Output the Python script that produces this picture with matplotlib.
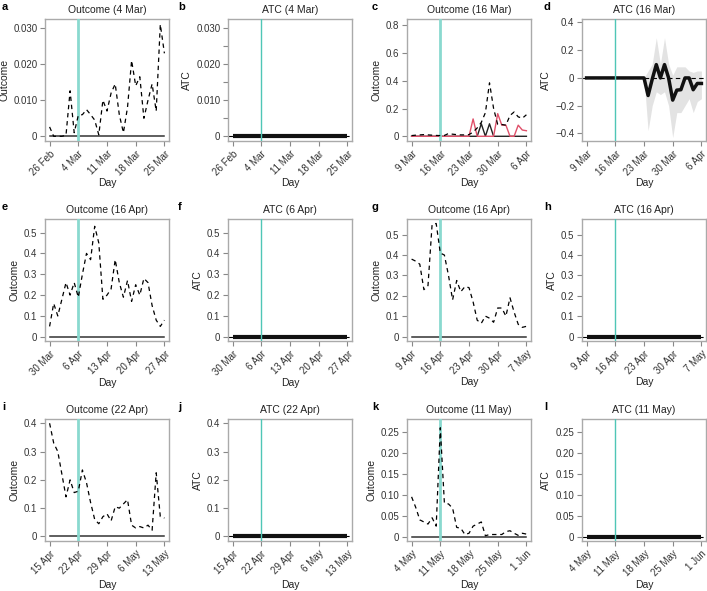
import matplotlib
matplotlib.use('Agg')
import matplotlib.pyplot as plt
import numpy as np

plt.rcParams['font.family'] = ['Liberation Sans', 'DejaVu Sans']

days = np.arange(29)

# tick labels (one every 7 days) for each row pair
ticks_a = ['26 Feb', '4 Mar', '11 Mar', '18 Mar', '25 Mar']
ticks_c = ['9 Mar', '16 Mar', '23 Mar', '30 Mar', '6 Apr']
ticks_e = ['30 Mar', '6 Apr', '13 Apr', '20 Apr', '27 Apr']
ticks_g = ['9 Apr', '16 Apr', '23 Apr', '30 Apr', '7 May']
ticks_i = ['15 Apr', '22 Apr', '29 Apr', '6 May', '13 May']
ticks_k = ['4 May', '11 May', '18 May', '25 May', '1 Jun']

# outcome series (dashed)
a_outcome = [0.0026, 0.0, 0.0, 0.0, 0.0003, 0.0126, 0.001, 0.0058, 0.006, 0.0074, 0.006, 0.0045, 0.0004,
             0.010, 0.007, 0.012, 0.0145, 0.006, 0.001, 0.008, 0.021, 0.014, 0.0165, 0.005, 0.010,
             0.0145, 0.007, 0.031, 0.023]
c_outcome = [0.005, 0.008, 0.01, 0.012, 0.01, 0.008, 0.006, 0.005, 0.006, 0.02, 0.015, 0.012, 0.01,
             0.01, 0.012, 0.03, 0.06, 0.10, 0.17, 0.385, 0.2, 0.085, 0.085, 0.08, 0.15, 0.175, 0.14,
             0.13, 0.155]
c_red = [0, 0, 0, 0, 0, 0, 0, 0, 0, 0, 0, 0, 0, 0, 0, 0.125, 0, 0, 0, 0, 0, 0.163, 0.08, 0.08, 0, 0,
         0.08, 0.045, 0.04]
c_black = [0, 0, 0, 0, 0, 0, 0, 0, 0, 0, 0, 0, 0, 0, 0, 0, 0, 0.09, 0, 0.09, 0, 0, 0, 0, 0, 0, 0, 0, 0]
e_outcome = [0.05, 0.16, 0.10, 0.18, 0.26, 0.20, 0.26, 0.19, 0.30, 0.40, 0.37, 0.53, 0.45, 0.18, 0.20,
             0.23, 0.37, 0.26, 0.19, 0.27, 0.17, 0.25, 0.20, 0.28, 0.26, 0.15, 0.08, 0.05, 0.08]
g_outcome = [0.38, 0.37, 0.355, 0.23, 0.25, 0.55, 0.555, 0.41, 0.40, 0.30, 0.18, 0.275, 0.22, 0.245,
             0.24, 0.17, 0.08, 0.065, 0.10, 0.09, 0.07, 0.14, 0.14, 0.10, 0.19, 0.12, 0.06, 0.045, 0.05]
i_outcome = [0.40, 0.33, 0.30, 0.22, 0.14, 0.20, 0.155, 0.16, 0.235, 0.19, 0.12, 0.06, 0.045, 0.07,
             0.08, 0.055, 0.105, 0.10, 0.115, 0.13, 0.04, 0.03, 0.035, 0.03, 0.04, 0.022, 0.225, 0.07,
             0.065]
k_outcome = [0.095, 0.07, 0.04, 0.035, 0.03, 0.045, 0.025, 0.26, 0.08, 0.078, 0.068, 0.022, 0.02, 0.005,
             0.008, 0.025, 0.03, 0.035, 0.002, 0.005, 0.005, 0.005, 0.005, 0.012, 0.014, 0.008, 0.003,
             0.008, 0.006]

# ATC for 16 Mar with its band
d_atc = [0] * 15 + [-0.127, -0.01, 0.096, 0.0, 0.096, 0.0, -0.16, -0.088, -0.085, 0.0, 0.0, -0.085,
                    -0.04, -0.04]
d_lo = [0] * 15 + [-0.38, -0.2, -0.1, -0.12, -0.1, -0.2, -0.43, -0.25, -0.25, -0.2, -0.15, -0.25,
                   -0.17, -0.15]
d_hi = [0] * 15 + [0.05, 0.1, 0.29, 0.1, 0.29, 0.1, 0.02, 0.08, 0.08, 0.08, 0.05, 0.04, 0.05, 0.05]
zero_atc = [0] * 29

fig = plt.figure(figsize=(7.07, 5.91), dpi=100)
W, H = 707.0, 591.0

lefts = [45, 228, 407, 582]
tops = [19, 219, 419]
aw, ah = 124, 122

teal_thick = '#8ad9cf'
teal_thin = '#4fc6b6'


def make_axes(row, col, title, letter, ticks, ylim, yticks, ylabels, ylabel):
    ax = fig.add_axes([lefts[col] / W, 1 - (tops[row] + ah) / H, aw / W, ah / H])
    ax.set_xlim(-1.12, 29.12)
    ax.set_ylim(ylim)
    ax.set_xticks(range(0, 29, 7))
    ax.set_xticklabels(ticks, rotation=45, ha='right', rotation_mode='anchor', fontsize=7,
                       color='#333333')
    ax.set_yticks(yticks)
    ax.set_yticklabels(ylabels, fontsize=7, color='#333333')
    ax.tick_params(length=3.5, width=0.8, color='#888888', pad=2)
    for s in ax.spines.values():
        s.set_color('#aaaaaa')
        s.set_linewidth(1.0)
    ax.set_title(title, fontsize=7.5, pad=4, color='#222222')
    ax.set_xlabel('Day', fontsize=7.5, color='#222222', labelpad=1)
    ax.set_ylabel(ylabel, fontsize=7.5, color='#222222', labelpad=3)
    lx = {0: 2, 1: 178, 2: 372, 3: 544}[col]
    ly = tops[row] - 12
    fig.text(lx / W, 1 - ly / H, letter, fontsize=8, fontweight='bold', va='center', ha='left')
    return ax


def outcome_panel(row, col, title, letter, ticks, ylim, yticks, ylabels, values):
    ax = make_axes(row, col, title, letter, ticks, ylim, yticks, ylabels, 'Outcome')
    ax.plot(days, zero_atc, color='#333333', lw=1.1, zorder=2)
    ax.axvline(7, color=teal_thick, lw=2, zorder=3)
    ax.plot(days, values, color='black', lw=0.9, ls=(0, (3.5, 3)), zorder=4)
    return ax


def atc_panel(row, col, title, letter, ticks, ylim, yticks, ylabels):
    ax = make_axes(row, col, title, letter, ticks, ylim, yticks, ylabels, 'ATC')
    ax.axhline(0, color='black', lw=0.8, ls=(0, (4, 3)), zorder=1)
    ax.plot(days, zero_atc, color='#111111', lw=3, zorder=2, solid_capstyle='butt')
    ax.axvline(7, color=teal_thin, lw=1, zorder=4)
    return ax


# row 1
yt_a = [0, 0.01, 0.02, 0.03]
yl_a = ['0', '0.010', '0.020', '0.030']
outcome_panel(0, 0, 'Outcome (4 Mar)', 'a', ticks_a, (-0.0013, 0.0325), yt_a, yl_a, a_outcome)
ax_b = atc_panel(0, 1, 'ATC (4 Mar)', 'b', ticks_a, (-0.0013, 0.0325), yt_a, yl_a)
ax_b.set_yticks([0.005, 0.015, 0.025], minor=True)
ax_b.tick_params(which='minor', length=3.5, width=0.8, color='#888888')

ax_c = make_axes(0, 2, 'Outcome (16 Mar)', 'c', ticks_c, (-0.034, 0.845), [0, 0.2, 0.4, 0.6, 0.8],
                 ['0', '0.2', '0.4', '0.6', '0.8'], 'Outcome')
ax_c.plot(days, c_black, color='#222222', lw=1.0, zorder=2)
ax_c.plot(days, c_red, color='#e0506a', lw=1.0, zorder=3)
ax_c.axvline(7, color=teal_thick, lw=2, zorder=3)
ax_c.plot(days, c_outcome, color='black', lw=0.9, ls=(0, (3.5, 3)), zorder=4)

ax_d = make_axes(0, 3, 'ATC (16 Mar)', 'd', ticks_c, (-0.455, 0.425), [-0.4, -0.2, 0, 0.2, 0.4],
                 ['\u22120.4', '\u22120.2', '0', '0.2', '0.4'], 'ATC')
ax_d.fill_between(days, d_lo, d_hi, color='#e3e3e3', lw=0, zorder=1)
ax_d.axhline(0, color='black', lw=0.8, ls=(0, (4, 3)), zorder=2)
ax_d.plot(days, d_atc, color='#111111', lw=2.5, zorder=3)
ax_d.axvline(7, color=teal_thin, lw=1, zorder=4)

# row 2
yt_e = [0, 0.1, 0.2, 0.3, 0.4, 0.5]
yl_e = ['0', '0.1', '0.2', '0.3', '0.4', '0.5']
outcome_panel(1, 0, 'Outcome (16 Apr)', 'e', ticks_e, (-0.02, 0.565), yt_e, yl_e, e_outcome)
atc_panel(1, 1, 'ATC (6 Apr)', 'f', ticks_e, (-0.02, 0.565), yt_e, yl_e)
outcome_panel(1, 2, 'Outcome (16 Apr)', 'g', ticks_g, (-0.022, 0.577), yt_e, yl_e, g_outcome)
atc_panel(1, 3, 'ATC (16 Apr)', 'h', ticks_g, (-0.022, 0.577), yt_e, yl_e)

# row 3
yt_i = [0, 0.1, 0.2, 0.3, 0.4]
yl_i = ['0', '0.1', '0.2', '0.3', '0.4']
outcome_panel(2, 0, 'Outcome (22 Apr)', 'i', ticks_i, (-0.016, 0.415), yt_i, yl_i, i_outcome)
atc_panel(2, 1, 'ATC (22 Apr)', 'j', ticks_i, (-0.016, 0.415), yt_i, yl_i)
yt_k = [0, 0.05, 0.10, 0.15, 0.20, 0.25]
yl_k = ['0', '0.05', '0.10', '0.15', '0.20', '0.25']
outcome_panel(2, 2, 'Outcome (11 May)', 'k', ticks_k, (-0.0105, 0.281), yt_k, yl_k, k_outcome)
atc_panel(2, 3, 'ATC (11 May)', 'l', ticks_k, (-0.0105, 0.281), yt_k, yl_k)

fig.savefig('out.png', dpi=100)
